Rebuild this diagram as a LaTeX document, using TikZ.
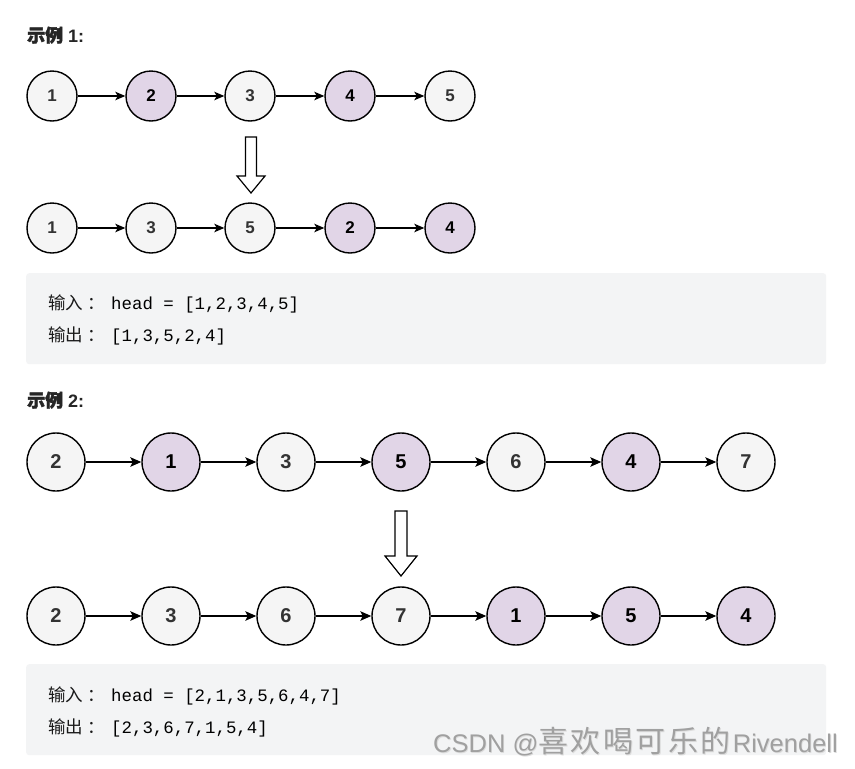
\documentclass[tikz,border=0pt]{standalone}
\usepackage{fontspec}
\setmainfont{Liberation Sans}
\newfontfamily\cjk{Noto Sans CJK SC}
\newfontfamily\cjkb[FakeBold=2]{Noto Sans CJK SC}
\newfontfamily\monof{Liberation Mono}
\usetikzlibrary{arrows.meta}
\definecolor{ngray}{HTML}{F5F5F5}
\definecolor{npurp}{HTML}{E1D5E7}
\definecolor{tgray}{HTML}{333333}
\definecolor{boxg}{HTML}{F3F4F5}
\definecolor{wmc}{HTML}{A0A0A0}
\definecolor{wml}{HTML}{DCDCDC}
\newcommand{\wmtext}{CSDN @{\cjk\fontsize{30}{30}\selectfont 喜\hspace{2.5pt}欢\hspace{2.5pt}喝\hspace{2.5pt}可\hspace{2.5pt}乐\hspace{2.5pt}的}\hspace{2pt}Rivendell}
\newcommand{\cjkcolon}{\kern4pt：\kern-4pt}
\begin{document}
\begin{tikzpicture}[x=1pt,y=-1pt,
  ln/.style={circle, draw=black, line width=1.4pt, minimum size=50pt, inner sep=0pt,
    font=\bfseries\fontsize{17}{17}\selectfont},
  g/.style={ln, fill=ngray, text=tgray},
  p/.style={ln, fill=npurp, text=black},
  big/.style={minimum size=58pt, font=\bfseries\fontsize{20}{20}\selectfont},
  conn/.style={-{Stealth[length=10pt,width=8.5pt,inset=2.5pt]}, line width=1.3pt},
  connb/.style={-{Stealth[length=11pt,width=9.5pt,inset=2.5pt]}, line width=1.4pt},
  codebox/.style={fill=boxg, rounded corners=3pt, draw=none, minimum width=800pt,
    minimum height=91pt, anchor=north west, inner sep=0pt},
  lab/.style={anchor=base west, inner sep=0pt, font=\cjk\fontsize{17.5}{17.5}\selectfont, text=black!90},
  code/.style={anchor=base west, inner sep=0pt, font=\monof\fontsize{17.4}{17.4}\selectfont, text=black},
  head/.style={anchor=base west, inner sep=0pt, text=black!85},
  wmark/.style={anchor=base west, inner sep=0pt, font=\fontsize{25.5}{25.5}\selectfont},
  hollow/.style={draw=black, fill=white, line width=1.2pt, line join=miter}
]
\useasboundingbox (0,0) rectangle (855,769);
\fill[white] (0,0) rectangle (855,769);

% Example 1 heading
\node[head] (h1) at (27,42) {{\cjkb\bfseries\fontsize{18}{18}\selectfont 示例}{\fontsize{18}{18}\selectfont\bfseries\ 1:}};

% Row 1
\node[g] (a1) at (52,96)  {1};
\node[p] (a2) at (151,96) {2};
\node[g] (a3) at (250,96) {3};
\node[p] (a4) at (350,96) {4};
\node[g] (a5) at (450,96) {5};
\draw[conn] (a1) -- (a2);
\draw[conn] (a2) -- (a3);
\draw[conn] (a3) -- (a4);
\draw[conn] (a4) -- (a5);

% hollow arrow 1
\draw[hollow] (245.5,137) -- (256.5,137) -- (256.5,176) -- (265,176) -- (251,193)
  -- (237,176) -- (245.5,176) -- cycle;

% Row 2
\node[g] (b1) at (52,228)  {1};
\node[g] (b2) at (151,228) {3};
\node[g] (b3) at (250,228) {5};
\node[p] (b4) at (350,228) {2};
\node[p] (b5) at (450,228) {4};
\draw[conn] (b1) -- (b2);
\draw[conn] (b2) -- (b3);
\draw[conn] (b3) -- (b4);
\draw[conn] (b4) -- (b5);

% Code box 1
\node[codebox] (box1) at (26,273) {};
\node[lab]  (in1l)  at (48,309) {输入\cjkcolon};
\node[code] (in1c)  at (111,309) {head = [1,2,3,4,5]};
\node[lab]  (out1l) at (48,341) {输出\cjkcolon};
\node[code] (out1c) at (111,341) {[1,3,5,2,4]};

% Example 2 heading
\node[head] (h2) at (27,407) {{\cjkb\bfseries\fontsize{18}{18}\selectfont 示例}{\fontsize{18}{18}\selectfont\bfseries\ 2:}};

% Row 3
\node[g,big] (c1) at (56,462)  {2};
\node[p,big] (c2) at (171,462) {1};
\node[g,big] (c3) at (286,462) {3};
\node[p,big] (c4) at (401,462) {5};
\node[g,big] (c5) at (516,462) {6};
\node[p,big] (c6) at (631,462) {4};
\node[g,big] (c7) at (746,462) {7};
\foreach \i/\j in {1/2,2/3,3/4,4/5,5/6,6/7} \draw[connb] (c\i) -- (c\j);

% hollow arrow 2
\draw[hollow] (395,511) -- (407,511) -- (407,556) -- (417,556) -- (401,576)
  -- (385,556) -- (395,556) -- cycle;

% Row 4
\node[g,big] (d1) at (56,616)  {2};
\node[g,big] (d2) at (171,616) {3};
\node[g,big] (d3) at (286,616) {6};
\node[g,big] (d4) at (401,616) {7};
\node[p,big] (d5) at (516,616) {1};
\node[p,big] (d6) at (631,616) {5};
\node[p,big] (d7) at (746,616) {4};
\foreach \i/\j in {1/2,2/3,3/4,4/5,5/6,6/7} \draw[connb] (d\i) -- (d\j);

% Code box 2
\node[codebox] (box2) at (26,664) {};
\node[lab]  (in2l)  at (48,701) {输入\cjkcolon};
\node[code] (in2c)  at (111,701) {head = [2,1,3,5,6,4,7]};
\node[lab]  (out2l) at (48,733) {输出\cjkcolon};
\node[code] (out2c) at (111,733) {[2,3,6,7,1,5,4]};

% Watermark
\node[wmark, text=wml] (wml) at (433.8,753.3) {\wmtext};
\node[wmark, text=wmc] (wm) at (433,752.5) {\wmtext};
\end{tikzpicture}
\end{document}
